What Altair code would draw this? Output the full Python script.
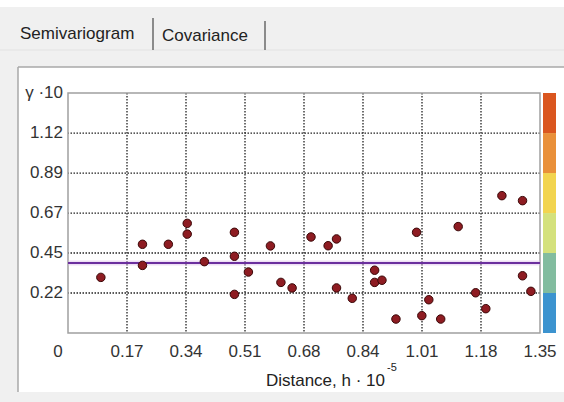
import altair as alt
import pandas as pd

# Empirical semivariogram: lag distance (h, x1e-5) and semivariance (gamma, x10)
lag_h = [0.094, 0.213, 0.213, 0.287, 0.341, 0.341, 0.390, 0.476, 0.476, 0.476,
         0.516, 0.579, 0.609, 0.641, 0.695, 0.744, 0.768, 0.768, 0.813, 0.877,
         0.877, 0.898, 0.938, 0.997, 1.012, 1.032, 1.066, 1.116, 1.166, 1.195,
         1.241, 1.300, 1.300, 1.324]
gamma = [0.311, 0.496, 0.378, 0.496, 0.613, 0.553, 0.399, 0.563, 0.429, 0.216,
         0.341, 0.487, 0.283, 0.252, 0.537, 0.488, 0.526, 0.252, 0.194, 0.351,
         0.283, 0.295, 0.078, 0.563, 0.097, 0.186, 0.078, 0.595, 0.225, 0.136,
         0.768, 0.740, 0.320, 0.233]

# Fitted model (flat sill)
model_sill = 0.391
x_max = 1.35
y_max = 1.342

# Tick positions and their labels
x_ticks = [0.0, 0.16875, 0.3375, 0.50625, 0.675, 0.84375, 1.0125, 1.18125, 1.35]
x_labels = ["0", "0.17", "0.34", "0.51", "0.68", "0.84", "1.01", "1.18", "1.35"]
y_ticks = [0.2236, 0.4472, 0.6708, 0.8944, 1.118, 1.342]
y_labels = ["0.22", "0.45", "0.67", "0.89", "1.12", "\u03b3 \u00b710"]

# Colour bar segments (bottom to top)
bar_lo = [0.0, 0.2236, 0.4472, 0.6708, 0.8944, 1.118]
bar_hi = [0.2236, 0.4472, 0.6708, 0.8944, 1.118, 1.342]
bar_colors = ["#3c93cf", "#82bc9f", "#d4e17c", "#f2d44f", "#e9903a", "#da561f"]

FONT = "Liberation Sans"
W, H = 472, 240

pts = pd.DataFrame({"h": lag_h, "gamma": gamma})
xs = alt.Scale(domain=[0, x_max], nice=False, zero=False)
ys = alt.Scale(domain=[0, y_max], nice=False, zero=False)
one = pd.DataFrame({"k": [0]})

# Window chrome: white panel, tab strip and tab captions
panel = alt.Chart(one).mark_rect(fill="white").encode(
    x=alt.value(-50), x2=alt.value(500), y=alt.value(-26), y2=alt.value(299))
top_strip = alt.Chart(one).mark_rect(fill="white").encode(
    x=alt.value(-68), x2=alt.value(500), y=alt.value(-93), y2=alt.value(-86))
panel_top = alt.Chart(one).mark_rule(color="#a8a8a8", strokeWidth=1.5).encode(
    x=alt.value(-50), x2=alt.value(500), y=alt.value(-26))
panel_left = alt.Chart(one).mark_rule(color="#a8a8a8", strokeWidth=1.5).encode(
    x=alt.value(-50), y=alt.value(-26), y2=alt.value(299))
tab_line = alt.Chart(one).mark_rule(color="#e2e2e2", strokeWidth=1).encode(
    x=alt.value(-68), x2=alt.value(500), y=alt.value(-43))
tab_sep1 = alt.Chart(one).mark_rule(color="#6a6a6a", strokeWidth=1.5).encode(
    x=alt.value(85), y=alt.value(-75), y2=alt.value(-43))
tab_sep2 = alt.Chart(one).mark_rule(color="#6a6a6a", strokeWidth=1.5).encode(
    x=alt.value(197), y=alt.value(-72), y2=alt.value(-43))
tab1 = alt.Chart(one).mark_text(text="Semivariogram", font=FONT, fontSize=17,
                                align="left", baseline="middle", color="#222").encode(
    x=alt.value(-48), y=alt.value(-59))
tab2 = alt.Chart(one).mark_text(text="Covariance", font=FONT, fontSize=17,
                                align="left", baseline="middle", color="#222").encode(
    x=alt.value(94), y=alt.value(-57))

# Dotted grid (interior ticks only)
xg = alt.Chart(pd.DataFrame({"v": x_ticks[1:-1]})).mark_rule(
    color="#222", strokeDash=[1.5, 1.5], strokeWidth=1.3).encode(
    x=alt.X("v:Q", scale=xs, axis=None))
yg = alt.Chart(pd.DataFrame({"v": y_ticks[:-1]})).mark_rule(
    color="#222", strokeDash=[1.5, 1.5], strokeWidth=1.3).encode(
    y=alt.Y("v:Q", scale=ys, axis=None))

# Plot frame
frame = alt.Chart(one).mark_rect(fill=None, stroke="#a0a0a0", strokeWidth=1.5).encode(
    x=alt.value(0), x2=alt.value(W), y=alt.value(0), y2=alt.value(H))

# Tick labels placed through the scales
xlab = alt.Chart(pd.DataFrame({"v": x_ticks[1:], "t": x_labels[1:]})).mark_text(
    font=FONT, fontSize=17, color="#333", baseline="middle", align="center").encode(
    x=alt.X("v:Q", scale=xs, axis=None), y=alt.value(259), text="t:N")
xlab0 = alt.Chart(pd.DataFrame({"v": x_ticks[:1], "t": x_labels[:1]})).mark_text(
    font=FONT, fontSize=17, color="#333", baseline="middle", align="center", dx=-10).encode(
    x=alt.X("v:Q", scale=xs, axis=None), y=alt.value(259), text="t:N")
ylab = alt.Chart(pd.DataFrame({"v": y_ticks, "t": y_labels})).mark_text(
    font=FONT, fontSize=17, color="#333", baseline="middle", align="right").encode(
    y=alt.Y("v:Q", scale=ys, axis=None), x=alt.value(-5), text="t:N")

# Model line with a soft halo
model_df = pd.DataFrame({"x0": [0.0], "x1": [x_max], "g": [model_sill]})
halo = alt.Chart(model_df).mark_rule(color="#d9b8e8", strokeWidth=5, opacity=0.45).encode(
    x=alt.X("x0:Q", scale=xs, axis=None), x2="x1:Q", y=alt.Y("g:Q", scale=ys, axis=None))
model = alt.Chart(model_df).mark_rule(color="#6b2f9e", strokeWidth=2).encode(
    x=alt.X("x0:Q", scale=xs, axis=None), x2="x1:Q", y=alt.Y("g:Q", scale=ys, axis=None))

points = alt.Chart(pts).mark_point(
    filled=True, shape="circle", size=72, color="#8e1c22",
    stroke="#3a0808", strokeWidth=1, opacity=1).encode(
    x=alt.X("h:Q", scale=xs, axis=None),
    y=alt.Y("gamma:Q", scale=ys, axis=None),
)

# Colour bar on the right edge
bar_df = pd.DataFrame({"lo": bar_lo, "hi": bar_hi, "c": bar_colors})
cbar = alt.Chart(bar_df).mark_rect().encode(
    x=alt.value(475), x2=alt.value(488),
    y=alt.Y("lo:Q", scale=ys, axis=None), y2="hi:Q",
    color=alt.Color("c:N", scale=alt.Scale(domain=bar_colors, range=bar_colors), legend=None))

xtitle = alt.Chart(one).mark_text(text="Distance, h \u00b7 10", font=FONT, fontSize=17,
                                  color="#222", align="right", baseline="middle").encode(
    x=alt.value(317), y=alt.value(288))
xsup = alt.Chart(one).mark_text(text="-5", font=FONT, fontSize=11, color="#222",
                                align="left", baseline="middle").encode(
    x=alt.value(319), y=alt.value(275))

chart = alt.layer(
    top_strip, panel, tab_line, panel_top, panel_left, tab_sep1, tab_sep2, tab1, tab2,
    xg, yg, frame, halo, model, points, cbar, xlab, xlab0, ylab, xtitle, xsup
).properties(
    width=W, height=H,
    autosize=alt.AutoSizeParams(type="none"),
    padding={"left": 68, "top": 93, "right": 24, "bottom": 69},
    background="#f0f0f0",
).configure_view(stroke=None)

chart.save("out.html", embed_options={"renderer": "svg", "actions": False})
